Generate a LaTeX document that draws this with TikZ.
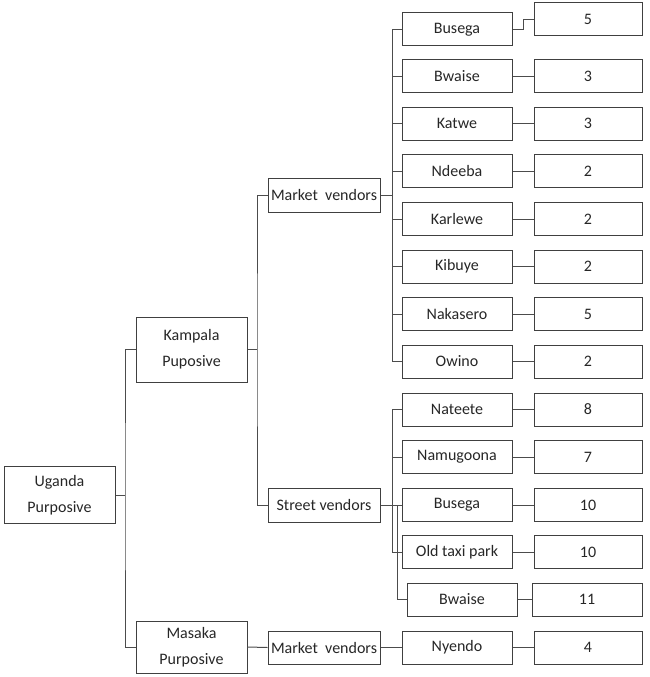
\documentclass[tikz,border=0pt]{standalone}
\usepackage{fontspec}
\setmainfont{Carlito}
\begin{document}
\begin{tikzpicture}[x=1pt,y=-1pt,
  bx/.style={draw=black!75, line width=1pt, inner sep=0pt, text=black!85,
    font=\fontsize{16}{26}\selectfont, align=center},
  ch/.style={bx, minimum width=110pt, minimum height=33pt},
  nm/.style={bx, minimum width=108pt, minimum height=33pt},
  ln/.style={draw=black!70, line width=1pt}]
\useasboundingbox (0,0) rectangle (649,677);
\node[bx, minimum width=111pt, minimum height=57pt] (ug) at (59.5,495) {Uganda\\Purposive};
\node[bx, minimum width=111pt, minimum height=65pt] (kp) at (191.5,349.5) {Kampala\\Puposive};
\node[bx, minimum width=111pt, minimum height=52pt] (ms) at (191.5,647) {Masaka\\Purposive};
\node[bx, minimum width=112pt, minimum height=34pt] (mv1) at (324,195) {Market~ vendors};
\node[bx, minimum width=112pt, minimum height=34pt] (sv) at (324,505) {Street vendors};
\node[bx, minimum width=112pt, minimum height=33pt] (mv2) at (324,647.5) {Market~ vendors};
% market vendors children
\node[ch] (c1) at (457,29.5) {Busega};
\node[ch] (c2) at (457,76) {Bwaise};
\node[ch] (c3) at (457,123.5) {Katwe};
\node[ch] (c4) at (457,171) {Ndeeba};
\node[ch] (c5) at (457,219) {Karlewe};
\node[ch] (c6) at (457,266.5) {Kibuye};
\node[ch] (c7) at (457,314) {Nakasero};
\node[ch] (c8) at (457,361.5) {Owino};
% street vendors children
\node[ch] (s1) at (457,409.5) {Nateete};
\node[ch] (s2) at (457,457) {Namugoona};
\node[ch] (s3) at (457,505) {Busega};
\node[ch] (s4) at (457,552) {Old taxi park};
\node[ch] (s5) at (462,599.5) {Bwaise};
% masaka
\node[ch] (m1) at (457,647.5) {Nyendo};
% numbers
\node[nm] (n1) at (588,19.5) {5};
\node[nm] (n2) at (588,76) {3};
\node[nm] (n3) at (588,123.5) {3};
\node[nm] (n4) at (588,171) {2};
\node[nm] (n5) at (588,219) {2};
\node[nm] (n6) at (588,266.5) {2};
\node[nm] (n7) at (588,314) {5};
\node[nm] (n8) at (588,361.5) {2};
\node[nm] (t1) at (588,409.5) {8};
\node[nm] (t2) at (588,457) {7};
\node[nm] (t3) at (588,505) {10};
\node[nm] (t4) at (588,552) {10};
\node[nm, minimum width=110pt] (t5) at (587,599.5) {11};
\node[nm] (p1) at (588,647.5) {4};
% tree connectors
\coordinate (jU) at (125,495);
\draw[ln] (ug.east) -- (jU);
\draw[ln] (kp.west) -| (jU) |- (ms.west);
\coordinate (jK) at (257,349.5);
\draw[ln] (kp.east) -- (jK);
\draw[ln] (mv1.west) -| (jK) |- (sv.west);
\draw[ln] (ms.east) -- (mv2.west);
\coordinate (jM) at (392,195);
\draw[ln] (mv1.east) -- (jM);
\foreach \c in {c1,c2,c3,c4,c5,c6,c7,c8}
  \draw[ln] (jM) |- (\c.west);
\coordinate (jS) at (392,505);
\draw[ln] (sv.east) -- (jS);
\foreach \c in {s1,s2,s3,s4}
  \draw[ln] (jS) |- (\c.west);
\draw[ln] (sv.east) -| (397,599.5) -- (s5.west);
\draw[ln] (mv2.east) -- (m1.west);
% leaf to number
\draw[ln] (c1.east) -- ++(11,0) |- (n1.west);
\foreach \a/\b in {c2/n2,c3/n3,c4/n4,c5/n5,c6/n6,c7/n7,c8/n8,s1/t1,s2/t2,s3/t3,s4/t4,s5/t5,m1/p1}
  \draw[ln] (\a.east) -- (\b.west);
\end{tikzpicture}
\end{document}
